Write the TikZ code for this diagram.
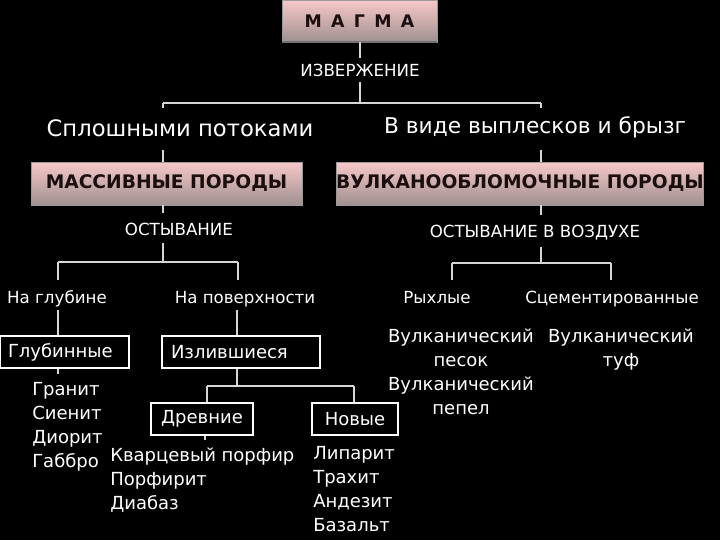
\documentclass[tikz,border=0pt]{standalone}
\usepackage{fontspec}
\setmainfont{DejaVu Sans}
\definecolor{pinktop}{HTML}{F7C8C8}
\definecolor{pinkbot}{HTML}{A09090}
\definecolor{darktext}{HTML}{1A0E0E}
\definecolor{lineg}{HTML}{D6D6D6}
\begin{document}
\begin{tikzpicture}[x=0.75pt,y=-0.75pt,
  conn/.style={draw=lineg, line width=1.5pt},
  wt/.style={text=white, inner sep=0pt},
  pinkbox/.style={draw=white!60!black, line width=0.6pt, top color=pinktop, bottom color=pinkbot,
    text=darktext, font=\bfseries\fontsize{14}{16}\selectfont, inner sep=0pt},
  wbox/.style={draw=white, line width=0.8pt, text=white, inner ysep=0pt, minimum height=24pt},
  f12/.style={font=\fontsize{12.5}{15}\selectfont},
  f13/.style={font=\fontsize{13.5}{18}\selectfont}]
\useasboundingbox (0,0) rectangle (720,540);
\fill[black] (0,0) rectangle (720,540);

% top
\node[pinkbox, minimum width=116.25pt, minimum height=31.5pt, font=\bfseries\fontsize{13}{15}\selectfont]
  (magma) at (359.5,21) {М\hspace{7pt}А\hspace{7pt}Г\hspace{7pt}М\hspace{7pt}А};
\draw[white!45!black, line width=1.5pt] (magma.south west) -- (magma.south east);
\node[wt, f12] (izv) at (360,70) {ИЗВЕРЖЕНИЕ};
\coordinate (b1) at (360,103);
\coordinate (b1l) at (163,103);
\coordinate (b1r) at (541,103);
\draw[conn] (magma.south) -- ++(0,16);
\draw[conn] (izv.south) ++(0,5) -- (b1);
\draw[conn] (b1l) -- (b1r);
\draw[conn] (b1l) -- ++(0,5);
\draw[conn] (b1r) -- ++(0,5);

\node[wt, font=\fontsize{17}{20}\selectfont] (spl) at (180,128) {Сплошными потоками};
\node[wt, font=\fontsize{16.3}{20}\selectfont] (vyp) at (535,127) {В виде выплесков и брызг};

\node[pinkbox, minimum width=203.25pt, minimum height=32.25pt] (mass) at (166.5,183.5) {МАССИВНЫЕ ПОРОДЫ};
\node[pinkbox, minimum width=274.5pt, minimum height=32.25pt] (vulk) at (520,183.5) {ВУЛКАНООБЛОМОЧНЫЕ ПОРОДЫ};
\coordinate (c1) at (163,150);
\coordinate (c2) at (541,150);
\draw[conn] (c1) -- (c1 |- mass.north);
\draw[conn] (c2) -- (c2 |- vulk.north);

% left branch
\node[wt, f12, anchor=base] (ost) at (179,235) {ОСТЫВАНИЕ};
\coordinate (c3) at (163,213);
\draw[conn] (c3 |- mass.south) -- (c3);
\coordinate (b2) at (163,262);
\coordinate (b2l) at (58,262);
\coordinate (b2r) at (238,262);
\draw[conn] (163,243) -- (b2);
\draw[conn] (b2l) -- (b2r);
\draw[conn] (b2l) -- ++(0,18);
\draw[conn] (b2r) -- ++(0,18);
\node[wt, f12, anchor=base] (glub) at (57,303) {На глубине};
\node[wt, f12, anchor=base] (pov) at (245,303) {На поверхности};

% right branch
\node[wt, f12, anchor=base] (ostv) at (535,237) {ОСТЫВАНИЕ В ВОЗДУХЕ};
\coordinate (c4) at (541,215);
\draw[conn] (c4 |- vulk.south) -- (c4);
\coordinate (b3) at (541,263);
\coordinate (b3l) at (452,263);
\coordinate (b3r) at (611,263);
\draw[conn] (541,247) -- (b3);
\draw[conn] (b3l) -- (b3r);
\draw[conn] (b3l) -- ++(0,17);
\draw[conn] (b3r) -- ++(0,17);
\node[wt, f12, anchor=base] (ryh) at (437,303) {Рыхлые};
\node[wt, f12, anchor=base] (cem) at (612,303) {Сцементированные};

% boxes level 4
\node[wbox, f13, text width=84.75pt, inner xsep=6pt, align=left] (glb) at (64.5,352) {Глубинные};
\node[wbox, f13, text width=105pt, inner xsep=6.75pt, align=left] (izl) at (241,352) {Излившиеся};
\coordinate (c5) at (58,310);
\coordinate (c6) at (237,310);
\draw[conn] (c5) -- (c5 |- glb.north);
\draw[conn] (c6) -- (c6 |- izl.north);
\draw[conn] (c5 |- glb.south) -- ++(0,5);

\coordinate (b4) at (237,386);
\coordinate (b4l) at (207,386);
\coordinate (b4r) at (354,386);
\draw[conn] (c6 |- izl.south) -- (b4);
\draw[conn] (b4l) -- (b4r);
\node[wbox, f13, minimum width=76.5pt] (drev) at (202,419) {Древние};
\node[wbox, f13, minimum width=64.5pt] (nov) at (355,419) {Новые};
\draw[conn] (b4l) -- (b4l |- drev.north);
\draw[conn] (b4r) -- (b4r |- nov.north);
\draw[conn] (205,0 |- drev.south) -- ++(0,4);

% lists
\node[wt, f13, align=left, anchor=north west] (l1) at (32,382) {Гранит\\Сиенит\\Диорит\\Габбро};
\node[wt, f13, align=left, anchor=north west] (l2) at (110,448) {Кварцевый порфир\\Порфирит\\Диабаз};
\node[wt, f13, align=left, anchor=north west] (l3) at (313,446) {Липарит\\Трахит\\Андезит\\Базальт};
\node[wt, f13, align=center, anchor=north] (l4) at (461,329) {Вулканический\\песок\\Вулканический\\пепел};
\node[wt, f13, align=center, anchor=north] (l5) at (621,329) {Вулканический\\туф};
\end{tikzpicture}
\end{document}
